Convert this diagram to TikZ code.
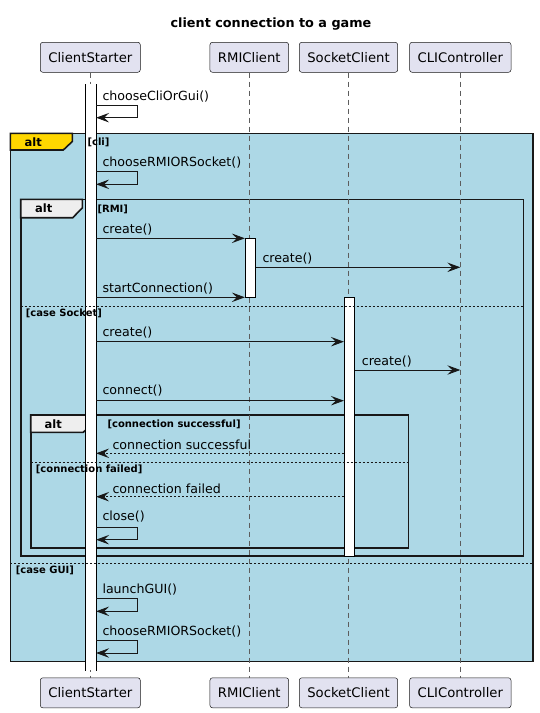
\documentclass[tikz,border=0pt]{standalone}
\usepackage{fontspec}
\setmainfont{DejaVu Sans}
\usepackage{xcolor}
\usepackage{tikz}
\usetikzlibrary{arrows.meta, positioning, calc}
\definecolor{partfill}{HTML}{E2E2F0}
\definecolor{linecol}{HTML}{181818}
\definecolor{altblue}{HTML}{ADD8E6}
\definecolor{altgold}{HTML}{FFD700}
\definecolor{tabgray}{HTML}{EEEEEE}
\tikzset{
    part/.style={
        rectangle,
        rounded corners=2.5pt,
        draw=linecol,
        line width=0.5pt,
        fill=partfill,
        minimum height=30pt,
        inner xsep=8pt,
        font=\fontsize{13.2}{15}\selectfont,
    },
    actbar/.style={
        rectangle,
        draw=black,
        line width=0.8pt,
        fill=white,
        minimum width=10pt,
        inner sep=0pt,
    },
    lifeline/.style={
        draw=linecol!70,
        line width=0.5pt,
        dash pattern=on 5pt off 4pt,
    },
    msg/.style={
        draw=linecol,
        line width=0.8pt,
        -{Stealth[length=13pt,width=9.5pt,inset=5pt]},
    },
    reply/.style={
        msg,
        dash pattern=on 2pt off 2pt,
    },
    msglabel/.style={
        anchor=west,
        inner sep=0pt,
        font=\fontsize{12.6}{15}\selectfont,
    },
    guard/.style={
        anchor=west,
        inner sep=0pt,
        font=\bfseries\fontsize{10}{12}\selectfont,
    },
    alttext/.style={
        inner sep=0pt,
        font=\bfseries\fontsize{11.5}{13}\selectfont,
    },
    altframe/.style={
        draw=linecol,
        line width=1.6pt,
    },
    separator/.style={
        draw=linecol,
        line width=0.6pt,
        dash pattern=on 2pt off 2pt,
    },
}

\begin{document}
\begin{tikzpicture}[x=1pt, y=-1pt]
      \useasboundingbox (0,0) rectangle (539,713);

      \node[font=\bfseries\fontsize{12.8}{15}\selectfont] (title) at (271,24) {client connection to a game};

      \node[part] (cstop) at (90.3,57.3) {ClientStarter};
      \node[part] (rmitop) at (249.3,57.3) {RMIClient};
      \node[part] (socktop) at (348.5,57.3) {SocketClient};
      \node[part] (clitop) at (460.3,57.3) {CLIController};

      \node[part] (csbot) at (90.3,692.8) {ClientStarter};
      \node[part] (rmibot) at (249.3,692.8) {RMIClient};
      \node[part] (sockbot) at (348.5,692.8) {SocketClient};
      \node[part] (clibot) at (460.3,692.8) {CLIController};

      \draw[altframe, fill=altblue] (10.3,133.3) rectangle (533,661.3);
      \draw[altframe] (20.7,199.3) rectangle (523.3,555.7);
      \draw[altframe] (30.7,415) rectangle (408.3,548);

      \draw[lifeline] (cstop) -- (csbot);
      \draw[lifeline] (rmitop) -- (rmibot);
      \draw[lifeline] (socktop) -- (sockbot);
      \draw[lifeline] (clitop) -- (clibot);

      \draw[altframe, fill=altgold] (10.3,133.3) -- (72.3,133.3) -- (72.3,141.5) -- (63.3,150) -- (10.3,150) -- cycle;
      \draw[altframe, fill=tabgray] (20.7,199.3) -- (82.3,199.3) -- (82.3,208) -- (72.7,217.7) -- (20.7,217.7) -- cycle;
      \draw[altframe, fill=tabgray] (30.7,415) -- (92.3,415) -- (92.3,423.5) -- (83.3,432.3) -- (30.7,432.3) -- cycle;

      \node[alttext] (alt1) at (33.3,142) {alt};
      \node[alttext] (alt2) at (43.7,208.5) {alt};
      \node[alttext] (alt3) at (53.3,424) {alt};

      \node[actbar, draw=none, minimum height=585.7pt, anchor=north] (csact) at (90.7,84) {};
      \draw[line width=0.8pt] (csact.north west) -- (csact.south west) (csact.north east) -- (csact.south east);
      \node[actbar, minimum height=59pt, anchor=north] (rmiact) at (250.3,238.3) {};
      \node[actbar, minimum height=258.4pt, anchor=north] (sockact) at (349.3,297.3) {};

      \draw[separator] (20.7,306.7) -- (523.3,306.7);
      \draw[separator] (30.7,462.3) -- (408.3,462.3);
      \draw[separator] (10.3,563.7) -- (533,563.7);

      \node[guard] (g1) at (87.3,142.7) {[cli]};
      \node[guard] (g2) at (97.3,209.3) {[RMI]};
      \node[guard] (g3) at (25.7,313.3) {[case Socket]};
      \node[guard] (g4) at (107.3,424.3) {[connection successful]};
      \node[guard] (g5) at (35.7,469) {[connection failed]};
      \node[guard] (g6) at (15.7,570.3) {[case GUI]};

      \node[msglabel] (l1) at (102.3,97) {chooseCliOrGui()};
      \draw[msg] (csact.east |- 0,105.7) -- ++(41.6,0) |- (csact.east |- 0,117.7);

      \node[msglabel] (l2) at (102.3,163) {chooseRMIORSocket()};
      \draw[msg] (csact.east |- 0,171.7) -- ++(41.6,0) |- (csact.east |- 0,184.3);

      \node[msglabel] (l3) at (102.3,230) {create()};
      \draw[msg] (csact.east |- 0,238.3) -- (rmiact.west |- 0,238.3);

      \node[msglabel] (l4) at (262.3,259) {create()};
      \draw[msg] (rmiact.east |- 0,267.3) -- (clitop |- 0,267.3);

      \node[msglabel] (l5) at (102.3,288.3) {startConnection()};
      \draw[msg] (csact.east |- 0,297.3) -- (rmiact.west |- 0,297.3);

      \node[msglabel] (l6) at (102.3,332.7) {create()};
      \draw[msg] (csact.east |- 0,341.7) -- (sockact.west |- 0,341.7);

      \node[msglabel] (l7) at (361.7,361.5) {create()};
      \draw[msg] (sockact.east |- 0,370) -- (clitop |- 0,370);

      \node[msglabel] (l8) at (102.3,390.7) {connect()};
      \draw[msg] (csact.east |- 0,400.7) -- (sockact.west |- 0,400.7);

      \node[msglabel] (l9) at (112.3,445) {connection successful};
      \draw[reply] (sockact.west |- 0,453.3) -- (csact.east |- 0,453.3);

      \node[msglabel] (l10) at (112.3,488.3) {connection failed};
      \draw[reply] (sockact.west |- 0,496.7) -- (csact.east |- 0,496.7);

      \node[msglabel] (l11) at (102.3,516.7) {close()};
      \draw[msg] (csact.east |- 0,527.3) -- ++(41.6,0) |- (csact.east |- 0,539.7);

      \node[msglabel] (l12) at (102.3,589.7) {launchGUI()};
      \draw[msg] (csact.east |- 0,598.7) -- ++(41.6,0) |- (csact.east |- 0,611.3);

      \node[msglabel] (l13) at (102.3,632) {chooseRMIORSocket()};
      \draw[msg] (csact.east |- 0,640.7) -- ++(41.6,0) |- (csact.east |- 0,653);

    \end{tikzpicture}
\end{document}
